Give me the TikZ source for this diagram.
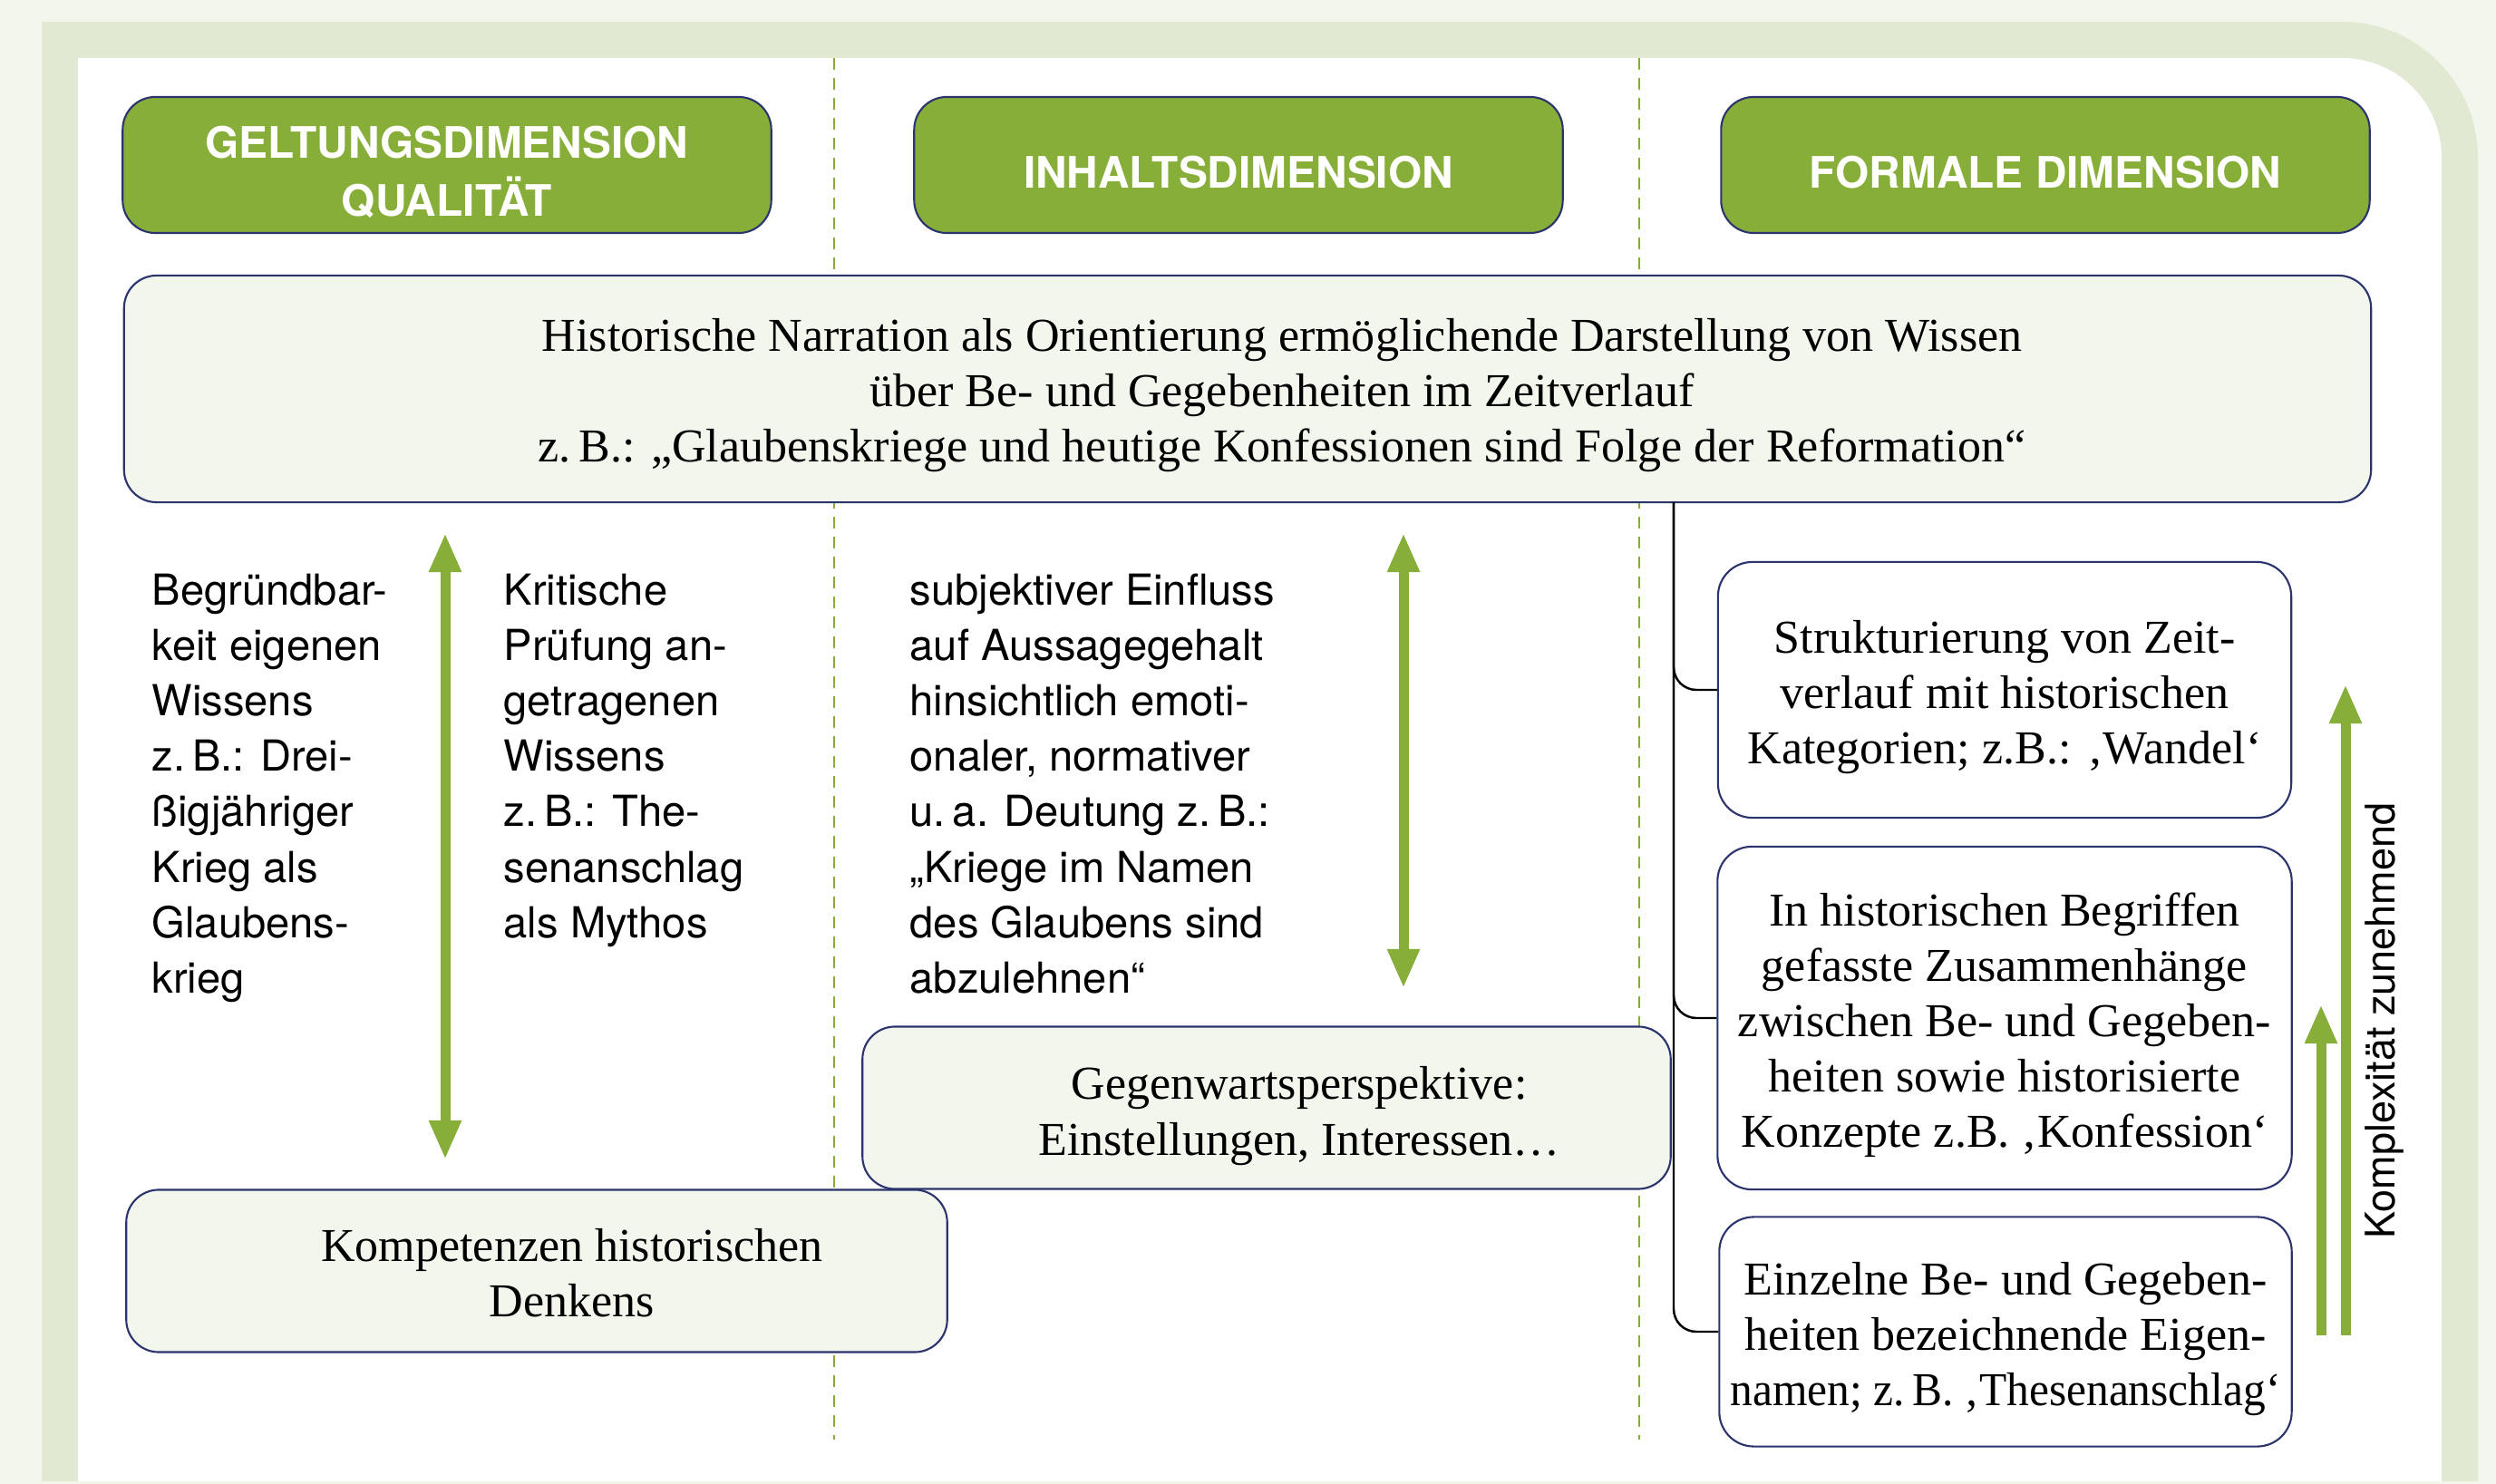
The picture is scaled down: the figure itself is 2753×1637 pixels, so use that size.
\documentclass[tikz,border=0pt]{standalone}
\usepackage{graphicx}
\usepackage{fontspec}
\setmainfont{Liberation Serif}
\setsansfont{TeX Gyre Heros}
\usetikzlibrary{arrows.meta}
\definecolor{palebg}{RGB}{243,246,236}
\definecolor{framegreen}{RGB}{225,233,211}
\definecolor{dimgreen}{RGB}{136,174,58}
\definecolor{boxnavy}{RGB}{44,52,110}
\newcommand\lift{\rule{0pt}{0.52cm}}

\begin{document}
\begin{tikzpicture}[x=0.01cm,y=-0.01cm,
  dimbox/.style={draw=boxnavy,line width=0.6pt,fill=dimgreen,rounded corners=0.36cm,
    minimum width=7.15cm,minimum height=1.5cm,text=white,align=center,
    font=\sffamily\bfseries\fontsize{13.6}{18.2}\selectfont},
  palebox/.style={draw=boxnavy,line width=0.6pt,fill=palebg,rounded corners=0.36cm},
  whitebox/.style={draw=boxnavy,line width=0.6pt,fill=white,rounded corners=0.38cm,
    align=center,inner xsep=0.1cm,font=\fontsize{14.8}{17.4}\selectfont},
  serif/.style={align=center,inner sep=0pt,font=\fontsize{14.8}{17.4}\selectfont},
  sanstext/.style={anchor=north west,align=left,inner sep=0pt,
    font=\sffamily\fontsize{13.4}{17.4}\selectfont},
  divider/.style={dimgreen,line width=0.6pt,dash pattern=on 0.13cm off 0.09cm},
  bracket/.style={line width=0.7pt,rounded corners=0.25cm},
  greenarrow/.style={dimgreen,line width=0.11cm,-{Triangle[length=0.43cm,width=0.33cm]}},
  twoway/.style={greenarrow,{Triangle[length=0.43cm,width=0.33cm]}-{Triangle[length=0.43cm,width=0.33cm]}}]
\useasboundingbox (0,0) rectangle (2753,1637);

% Frame
\fill[palebg] (0,0) rectangle (2753,1637);
\fill[framegreen] (46,1634) -- (46,24) -- (2583,24)
  .. controls (2666,24) and (2733,91) .. (2733,174) -- (2733,1634) -- cycle;
\fill[white] (86,1634) -- (86,64) -- (2583,64)
  .. controls (2644,64) and (2693,113) .. (2693,174) -- (2693,1634) -- cycle;
\draw[divider] (920,64) -- (920,1588);
\draw[divider] (1808,64) -- (1808,1588);

% Dimensions
\node[dimbox] (geltung) at (493,182) {\lift GELTUNGSDIMENSION\\QUALITÄT};
\node[dimbox] (inhalt) at (1366,182) {\lift INHALTSDIMENSION};
\node[dimbox] (formal) at (2256,182) {\lift FORMALE DIMENSION};

% Narration
\node[palebox,minimum width=24.77cm,minimum height=2.5cm] (narration) at (1376,429) {};
\node[serif] (narrtext) at (1414,436) {Historische Narration als Orientierung ermöglichende Darstellung von Wissen\\
  über Be- und Gegebenheiten im Zeitverlauf\\
  z.\,B.: „Glaubenskriege und heutige Konfessionen sind Folge der Reformation“};

% Geltung
\node[sanstext] (begruend) at (167,632) {Begründbar-\\keit eigenen\\Wissens\\z.\,B.: Drei-\\ßigjähriger\\Krieg als\\Glaubens-\\krieg};
\node[sanstext] (kritisch) at (555,632) {Kritische\\Prüfung an-\\getragenen\\Wissens\\z.\,B.: The-\\senanschlag\\als Mythos};
\coordinate (geltop) at (491,588);
\coordinate (geltbot) at (491,1279);
\draw[twoway] (geltop) -- (geltbot);
\node[palebox,minimum width=9.05cm,minimum height=1.79cm] (kompetenz) at (592,1402) {};
\node[serif] (komptext) at (631,1404) {Kompetenzen historischen\\Denkens};

% Inhalt
\node[sanstext] (subjektiv) at (1003,632) {subjektiver Einfluss\\auf Aussagegehalt\\hinsichtlich emoti-\\onaler, normativer\\u.\,a. Deutung z.\,B.:\\„Kriege im Namen\\des Glaubens sind\\abzulehnen“};
\coordinate (inhtop) at (1548,588);
\coordinate (inhbot) at (1548,1090);
\draw[twoway] (inhtop) -- (inhbot);
\node[palebox,minimum width=8.91cm,minimum height=1.79cm] (gegenwart) at (1397,1222) {};
\node[serif] (gegentext) at (1433,1231) {Gegenwartsperspektive:\\Einstellungen, Interessen…};

% Formal
\node[whitebox,minimum width=6.32cm,minimum height=2.82cm] (strukt) at (2211,761)
  {\lift Strukturierung von Zeit-\\verlauf mit historischen\\Kategorien; z.B.: ‚Wandel‘};
\node[whitebox,minimum width=6.33cm,minimum height=3.78cm] (begriffe) at (2211,1123)
  {\lift In historischen Begriffen\\gefasste Zusammenhänge\\zwischen Be- und Gegeben-\\heiten sowie historisierte\\Konzepte z.B. ‚Konfession‘};
\node[whitebox,minimum width=6.31cm,minimum height=2.53cm] (eigennamen) at (2212,1469)
  {\lift Einzelne Be- und Gegeben-\\heiten bezeichnende Eigen-\\\scalebox{0.95}[1]{namen; z.\,B. ‚Thesenanschlag‘}};
\coordinate (brtop) at (1846,554);
\draw[bracket] (brtop) |- (strukt.west);
\draw[bracket] (brtop) |- (begriffe.west);
\draw[bracket] (brtop) |- (eigennamen.west);

% Complexity
\coordinate (shortfoot) at (2560,1473);
\coordinate (shorttip) at (2560,1108);
\coordinate (longfoot) at (2587,1473);
\coordinate (longtip) at (2587,755);
\draw[greenarrow] (shortfoot) -- (shorttip);
\draw[greenarrow] (longfoot) -- (longtip);
\node[rotate=90,inner sep=0pt,font=\sffamily\fontsize{12.8}{15}\selectfont] (komplex) at (2630,1126) {Komplexität zunehmend};
\end{tikzpicture}
\end{document}
